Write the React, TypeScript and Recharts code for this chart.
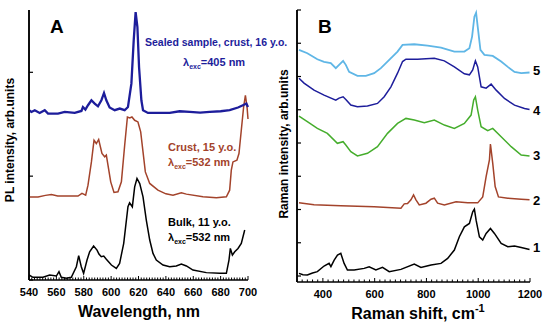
import React from 'react'
import { LineChart, Line, XAxis, YAxis, ReferenceLine } from 'recharts'

// Panel A: PL spectra (wavelength nm, intensity offset units)
const sealedCrust16: [number, number][] = [
  [540, 1.635], [541.8, 1.618], [544.2, 1.635], [547.8, 1.609], [551.5, 1.635], [553.9, 1.603],
  [561.2, 1.603], [566.1, 1.618], [573.4, 1.609], [578.3, 1.628], [579.4, 1.666], [581.2, 1.641],
  [583.1, 1.683], [585.6, 1.731], [588, 1.699], [590.4, 1.673], [592.9, 1.731], [594.8, 1.801],
  [596.5, 1.731], [598.9, 1.661], [602.6, 1.635], [606.3, 1.651], [609.9, 1.635], [612.3, 1.666],
  [614.8, 1.891], [616.5, 2.308], [617.9, 2.58], [619.2, 2.436], [620.4, 2.051], [622.1, 1.731],
  [623.3, 1.635], [626.9, 1.609], [634.2, 1.609], [642.8, 1.609], [650, 1.625], [657.4, 1.618],
  [665, 1.612], [672, 1.618], [680, 1.625], [686.6, 1.635], [692.7, 1.661], [696.3, 1.683],
  [698.8, 1.699], [700, 1.666],
]

const crust15: [number, number][] = [
  [540, 0.8], [546.6, 0.8], [552, 0.815], [556.4, 0.824], [561, 0.81], [566.1, 0.808], [575.8, 0.808],
  [578.7, 0.834], [581.4, 0.817], [583.1, 0.913], [585.6, 1.137], [587.5, 1.346], [589.2, 1.314],
  [590.9, 1.353], [593.3, 1.218], [595.3, 1.186], [596.5, 1.202], [597.7, 1.106], [599.7, 0.945],
  [602.1, 0.843], [605, 0.849], [607.5, 0.945], [609.9, 1.298], [611.9, 1.57], [613.6, 1.561],
  [615.2, 1.57], [617.2, 1.538], [619.6, 1.522], [621.6, 1.426], [623.3, 1.234], [625, 1.041],
  [628.2, 0.93], [634.2, 0.865], [640, 0.83], [645.2, 0.817], [651.3, 0.839], [655, 0.827],
  [667.1, 0.801], [676.9, 0.791], [684.2, 0.801], [686.6, 0.865], [687.8, 1.058], [689, 1.137],
  [691.9, 1.154], [693.4, 1.218], [695.1, 1.442], [696.8, 1.666], [698.1, 1.779], [699.3, 1.666],
  [700, 1.55],
]

const bulk11: [number, number][] = [
  [540, 0.048], [542.9, 0.026], [550.2, 0.026], [555.1, 0.048], [560, 0.038], [561.9, 0.08],
  [563.6, 0.026], [567.3, 0.016], [570.9, 0.026], [574.6, 0.128], [576.3, 0.234], [578.2, 0.128],
  [579.9, 0.064], [582.4, 0.192], [584.3, 0.272], [587.2, 0.327], [589.7, 0.288], [591.1, 0.25],
  [592.8, 0.224], [594.6, 0.231], [596.5, 0.199], [600.2, 0.144], [603.8, 0.112], [606.2, 0.16],
  [609.2, 0.353], [612.3, 0.705], [613.5, 0.744], [615.5, 0.705], [617.2, 0.897], [618.9, 0.978],
  [620.9, 0.929], [623.3, 0.801], [625.7, 0.577], [628.2, 0.385], [630.6, 0.256], [633, 0.192],
  [637.9, 0.144], [642.8, 0.128], [647.6, 0.135], [651.3, 0.154], [655, 0.135], [659.8, 0.096],
  [669.6, 0.071], [679.3, 0.064], [684.2, 0.064], [686.1, 0.192], [687.1, 0.304], [688.6, 0.24],
  [690.3, 0.272], [692.7, 0.304], [695.1, 0.353], [697.6, 0.481],
]

// Panel B: Raman spectra (cm-1, offset units)
const raman5: [number, number][] = [
  [307.7, 6.8], [339.9, 6.7], [378.6, 6.52], [404.5, 6.44], [430.5, 6.4], [449.8, 6.25], [462.6, 6.35],
  [478.1, 6.47], [488.5, 6.35], [501.3, 6.14], [533.4, 6.02], [566, 6.02], [598.1, 6.1], [624, 6.25],
  [656.2, 6.5], [688.3, 6.75], [707.7, 6.95], [753, 6.97], [804.5, 6.93], [856.3, 6.87], [907.8, 6.75],
  [946.5, 6.75], [965.9, 6.85], [976.3, 7.2], [985.2, 7.8], [991.8, 7.92], [998, 7.5], [1008.5, 6.8],
  [1024, 6.65], [1056.1, 6.62], [1088.6, 6.45], [1114.2, 6.29], [1140.1, 6.14], [1166, 6.1],
  [1198.2, 6.12],
]

const raman4: [number, number][] = [
  [307.7, 5.95], [327.1, 5.8], [365.8, 5.59], [404.5, 5.44], [449.8, 5.29], [462.6, 5.35], [478.1, 5.39],
  [488.5, 5.31], [507.9, 5.14], [533.4, 5.09], [572.2, 5.11], [610.9, 5.19], [636.8, 5.39],
  [662.8, 5.69], [688.3, 6.1], [707.7, 6.45], [720.8, 6.52], [765.7, 6.52], [830.4, 6.55],
  [869.1, 6.47], [907.8, 6.29], [946.5, 6.08], [965.9, 6.05], [978.7, 6.2], [989.1, 6.47],
  [998, 6.29], [1011.2, 5.69], [1030.5, 5.65], [1049.9, 5.77], [1069.3, 5.59], [1101.4, 5.34],
  [1140.1, 5.14], [1178.8, 5.04], [1198.2, 5.01],
]

const raman3: [number, number][] = [
  [307.7, 4.81], [339.9, 4.64], [378.6, 4.44], [417.3, 4.29], [456, 3.99], [478.1, 4.04], [488.5, 3.94],
  [507.9, 3.74], [533.4, 3.61], [572.2, 3.69], [610.9, 3.89], [649.6, 4.29], [688.3, 4.59],
  [720.8, 4.74], [753, 4.69], [791.7, 4.61], [830.4, 4.69], [869.1, 4.54], [907.8, 4.44],
  [946.5, 4.59], [972.4, 4.84], [982.5, 5.29], [989.1, 5.39], [998, 4.99], [1011.2, 4.49],
  [1036.7, 4.37], [1056.1, 4.44], [1088.6, 4.19], [1127.3, 3.89], [1166, 3.64], [1198.2, 3.61],
]

const raman2: [number, number][] = [
  [307.7, 2.2], [365.8, 2.14], [469.2, 2.11], [598.1, 2.08], [701.4, 2.04], [714.3, 2.17], [727, 2.18],
  [740.1, 2.29], [750.2, 2.44], [759.5, 2.29], [772.3, 2.14], [798.2, 2.19], [817.6, 2.31],
  [830.4, 2.34], [843.2, 2.19], [869.1, 2.14], [914.4, 2.23], [959.3, 2.2], [998, 2.2], [1017.4, 2.38],
  [1030.5, 2.99], [1043.3, 3.49], [1047.2, 3.97], [1056.1, 3.39], [1065.4, 2.69], [1078.2, 2.38],
  [1114.2, 2.34], [1166, 2.31], [1198.2, 2.29],
]

const raman1: [number, number][] = [
  [307.7, 0.08], [323, 0.04], [339.9, 0.03], [360, 0.09], [378.6, 0.13], [404.5, 0.3], [423.9, 0.38],
  [431, 0.28], [443.6, 0.48], [456.4, 0.63], [469.2, 0.68], [482, 0.38], [494.8, 0.18], [520.7, 0.18],
  [559.4, 0.23], [578.8, 0.28], [604.7, 0.18], [630.3, 0.26], [656.2, 0.13], [701.4, 0.2], [753, 0.36],
  [778.9, 0.26], [817.6, 0.33], [856.3, 0.38], [881.9, 0.53], [907.8, 0.78], [927.1, 1.18],
  [946.5, 1.48], [965.9, 1.58], [978.7, 1.93], [985.2, 2.01], [991.8, 1.68], [1004.6, 1.18],
  [1017.4, 1.08], [1030.5, 1.28], [1047.2, 1.43], [1062.6, 1.28], [1088.6, 0.98], [1114.2, 0.88],
  [1140.1, 0.9], [1166, 0.86], [1198.2, 0.8],
]

const wlLabels = [540, 560, 580, 600, 620, 640, 660, 680, 700]
const ramanLabels = [400, 600, 800, 1000, 1200]
const plTicksY = [0, 1, 2]
const ramanTicksY = [0, 1, 2, 3, 4, 5, 6, 7, 8]

// minor tick marks along the x axes
const wlMinor = Array.from({ length: 81 }, (_, i) => 540 + i * 2)
const ramanMinor = Array.from({ length: 46 }, (_, i) => 300 + i * 20)

const toPts = (arr: [number, number][]) => arr.map(([x, y]) => ({ x, y }))

const font = 'Arial, "Liberation Sans", sans-serif'

const navy = '#1d1d9b'
const brown = '#a3432b'
const axisLineStyle = { stroke: '#000', strokeWidth: 1.5 }

function makeXTick(labels: number[]) {
  return (props: any) => {
    const { x, y, payload } = props
    const major = labels.includes(payload.value)
    return (
      <g>
        <line x1={x} x2={x} y1={y} y2={y - (major ? 4 : 2.5)} stroke="#000" strokeWidth={1} />
        {major && (
          <text x={x} y={y + 16} textAnchor="middle" fontFamily={font} fontWeight={700} fontSize={11} fill="#000">
            {payload.value}
          </text>
        )}
      </g>
    )
  }
}

// inward tick mark on the y axis, no label
const YTick = (props: any) => {
  const { x, y } = props
  return <line x1={x} x2={x + 4} y1={y} y2={y} stroke="#000" strokeWidth={1.2} />
}

function Sub({ x, y, color, value }: { x: number; y: number; color: string; value: string }) {
  return (
    <text x={x} y={y} fill={color} fontFamily={font} fontWeight={700} fontSize={11}>
      λ<tspan fontSize={7} dy={3}>exc</tspan>
      <tspan dy={-3}>{value}</tspan>
    </text>
  )
}

export default function App() {
  return (
    <div style={{ position: 'absolute', left: 0, top: 0, width: 550, height: 329, background: '#fff' }}>
      <div style={{ position: 'absolute', left: 0, top: 0 }}>
        <LineChart width={275} height={329} margin={{ top: 10, right: 27, left: 23, bottom: 0 }}>
          <XAxis
            dataKey="x"
            type="number"
            domain={[540, 700]}
            ticks={wlMinor}
            interval={0}
            height={49}
            tick={makeXTick(wlLabels)}
            tickLine={false}
            tickSize={0}
            tickMargin={0}
            axisLine={axisLineStyle}
            allowDuplicatedCategory={false}
          />
          <YAxis
            type="number"
            domain={[0, 2.6]}
            ticks={plTicksY}
            interval={0}
            width={6}
            tick={YTick}
            tickLine={false}
            tickSize={0}
            tickMargin={0}
            axisLine={axisLineStyle}
          />
          <ReferenceLine x={540} stroke="#000" strokeWidth={1.5} ifOverflow="visible" />
          <Line data={toPts(bulk11)} dataKey="y" type="linear" dot={false} stroke="#000" strokeWidth={1.5} isAnimationActive={false} />
          <Line data={toPts(crust15)} dataKey="y" type="linear" dot={false} stroke={brown} strokeWidth={1.5} isAnimationActive={false} />
          <Line data={toPts(sealedCrust16)} dataKey="y" type="linear" dot={false} stroke={navy} strokeWidth={2.3} isAnimationActive={false} />
        </LineChart>
      </div>
      <div style={{ position: 'absolute', left: 275, top: 0 }}>
        <LineChart width={275} height={329} margin={{ top: 10, right: 20, left: 16, bottom: 0 }}>
          <XAxis
            dataKey="x"
            type="number"
            domain={[300, 1200]}
            ticks={ramanMinor}
            interval={0}
            height={47}
            tick={makeXTick(ramanLabels)}
            tickLine={false}
            tickSize={0}
            tickMargin={0}
            axisLine={axisLineStyle}
            allowDuplicatedCategory={false}
          />
          <YAxis
            type="number"
            domain={[-0.18, 8]}
            ticks={ramanTicksY}
            interval={0}
            width={6}
            tick={YTick}
            tickLine={false}
            tickSize={0}
            tickMargin={0}
            axisLine={axisLineStyle}
          />
          <ReferenceLine x={300} stroke="#000" strokeWidth={1.5} ifOverflow="visible" />
          <Line data={toPts(raman1)} dataKey="y" type="linear" dot={false} stroke="#000" strokeWidth={1.5} isAnimationActive={false} />
          <Line data={toPts(raman2)} dataKey="y" type="linear" dot={false} stroke={brown} strokeWidth={1.5} isAnimationActive={false} />
          <Line data={toPts(raman3)} dataKey="y" type="linear" dot={false} stroke="#45ad2c" strokeWidth={1.5} isAnimationActive={false} />
          <Line data={toPts(raman4)} dataKey="y" type="linear" dot={false} stroke={navy} strokeWidth={1.5} isAnimationActive={false} />
          <Line data={toPts(raman5)} dataKey="y" type="linear" dot={false} stroke="#5fb6e6" strokeWidth={1.8} isAnimationActive={false} />
        </LineChart>
      </div>
      <svg width={550} height={329} style={{ position: 'absolute', left: 0, top: 0, pointerEvents: 'none' }}>
        <text x={50} y={33} fontFamily={font} fontWeight={700} fontSize={19} fill="#000">A</text>
        <text x={318} y={33} fontFamily={font} fontWeight={700} fontSize={19} fill="#000">B</text>

        <text x={145} y={46} fontFamily={font} fontWeight={700} fontSize={10.5} fill={navy}>Sealed sample, crust, 16 y.o.</text>
        <Sub x={183} y={66} color={navy} value="=405 nm" />
        <text x={168} y={151} fontFamily={font} fontWeight={700} fontSize={11} fill={brown}>Crust, 15 y.o.</text>
        <Sub x={168} y={166} color={brown} value="=532 nm" />
        <text x={168} y={226} fontFamily={font} fontWeight={700} fontSize={11} fill="#000">Bulk, 11 y.o.</text>
        <Sub x={168} y={241} color="#000" value="=532 nm" />

        <text transform="translate(14,140) rotate(-90)" textAnchor="middle" fontFamily={font} fontWeight={700} fontSize={12} fill="#000">PL intensity, arb.units</text>
        <text transform="translate(288,144) rotate(-90)" textAnchor="middle" fontFamily={font} fontWeight={700} fontSize={12} fill="#000">Raman intensity, arb.units</text>

        <text x={139} y={317} textAnchor="middle" fontFamily={font} fontWeight={700} fontSize={16} fill="#000">Wavelength, nm</text>
        <text x={418} y={319} textAnchor="middle" fontFamily={font} fontWeight={700} fontSize={16} fill="#000">
          Raman shift, cm<tspan fontSize={11} dy={-7}>-1</tspan>
        </text>

        {['5', '4', '3', '2', '1'].map((n, i) => (
          <text key={n} x={533} y={[75, 115, 160, 205, 252][i]} fontFamily={font} fontWeight={700} fontSize={13} fill="#000">{n}</text>
        ))}
      </svg>
    </div>
  )
}
